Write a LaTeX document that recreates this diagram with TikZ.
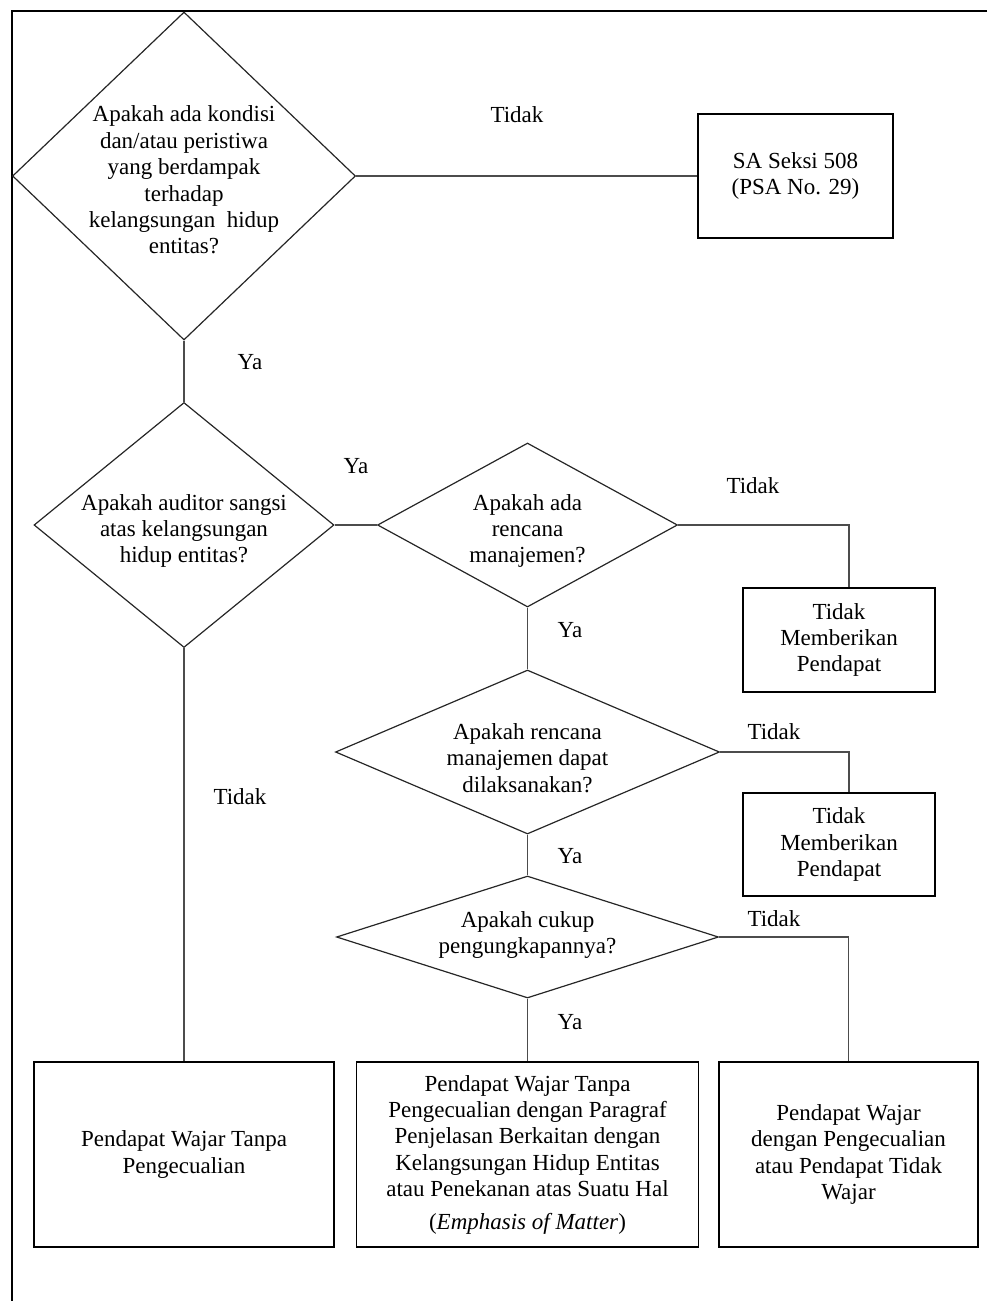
\documentclass[tikz,border=0pt]{standalone}
\usepackage{fontspec}
\setmainfont{Liberation Serif}
\usetikzlibrary{shapes.geometric,positioning}

\begin{document}
\begin{tikzpicture}[
  x=0.5pt, y=-0.5pt,
  every node/.style={font=\fontsize{11.5}{13.2}\selectfont},
  dec/.style={draw=black!85, line width=0.6pt, diamond, inner sep=0pt},
  qtext/.style={align=center, inner sep=0pt},
  box/.style={draw, line width=0.9pt, align=center, inner sep=2pt},
  lbl/.style={inner sep=0pt},
  link/.style={draw=black!70, line width=0.6pt}
]
\useasboundingbox (0,0) rectangle (987,1301);
% outer frame
\draw[line width=0.8pt] (987,11) -- (12,11) -- (12,1301);

% decisions
\node[dec, minimum width=171.5pt, minimum height=164pt] (q1) at (184,176) {};
\node[qtext, yshift=-2pt] (q1t) at (q1.center) {Apakah ada kondisi\\dan/atau peristiwa\\yang berdampak\\terhadap\\kelangsungan\ \ hidup\\entitas?};
\node[dec, minimum width=150pt, minimum height=122.5pt] (q2) at (184,525) {};
\node[qtext, yshift=-3pt] (q2t) at (q2.center) {Apakah auditor sangsi\\atas kelangsungan\\hidup entitas?};
\node[dec, minimum width=150pt, minimum height=82pt] (q3) at (527.5,525) {};
\node[qtext, yshift=-3pt] (q3t) at (q3.center) {Apakah ada\\rencana\\manajemen?};
\node[dec, minimum width=192pt, minimum height=82pt] (q4) at (527.5,752) {};
\node[qtext, yshift=-3pt] (q4t) at (q4.center) {Apakah rencana\\manajemen dapat\\dilaksanakan?};
\node[dec, minimum width=191pt, minimum height=61pt] (q5) at (527.5,937) {};
\node[qtext, yshift=1pt] (q5t) at (q5.center) {Apakah cukup\\pengungkapannya?};

% outcomes
\node[box, minimum width=97.5pt, minimum height=62pt] (sa) at (795.5,176) {SA Seksi 508\\(PSA No. 29)};
\node[box, minimum width=96pt, minimum height=52pt] (tmp1) at (839,640) {Tidak\\Memberikan\\Pendapat};
\node[box, minimum width=96pt, minimum height=51.5pt] (tmp2) at (839,844.5) {Tidak\\Memberikan\\Pendapat};
\node[box, minimum width=150pt, minimum height=92.5pt] (wtp) at (184,1154.5) {Pendapat Wajar Tanpa\\Pengecualian};
\node[box, minimum width=171pt, minimum height=92.5pt] (wtpe) at (527.5,1154.5) {Pendapat Wajar Tanpa\\Pengecualian dengan Paragraf\\Penjelasan Berkaitan dengan\\Kelangsungan Hidup Entitas\\atau Penekanan atas Suatu Hal\\[3pt](\textit{Emphasis of Matter})};
\node[box, minimum width=129.5pt, minimum height=92.5pt] (wdp) at (848.5,1154.5) {Pendapat Wajar\\dengan Pengecualian\\atau Pendapat Tidak\\Wajar};

% connectors
\draw[link] (q1.east) -- (sa.west);
\draw[link] (q1.south) -- (q2.north);
\draw[link] (q2.east) -- (q3.west);
\draw[link] (q3.east) -| ([xshift=5pt]tmp1.north);
\draw[link] (q3.south) -- (q4.north);
\draw[link] (q4.east) -| ([xshift=5pt]tmp2.north);
\draw[link] (q4.south) -- (q5.north);
\draw[link] (q5.east) -| (wdp.north);
\draw[link] (q5.south) -- (wtpe.north);
\draw[link] (q2.south) -- (wtp.north);

% branch labels
\node[lbl] (n1) at (517,115) {Tidak};
\node[lbl] (y1) at (250,362) {Ya};
\node[lbl] (y2) at (356,466) {Ya};
\node[lbl] (n2) at (753,486) {Tidak};
\node[lbl] (y3) at (570,630) {Ya};
\node[lbl] (n3) at (774,732) {Tidak};
\node[lbl] (y4) at (570,856) {Ya};
\node[lbl] (n4) at (774,919) {Tidak};
\node[lbl] (y5) at (570,1022) {Ya};
\node[lbl] (n5) at (240,797) {Tidak};
\end{tikzpicture}
\end{document}
